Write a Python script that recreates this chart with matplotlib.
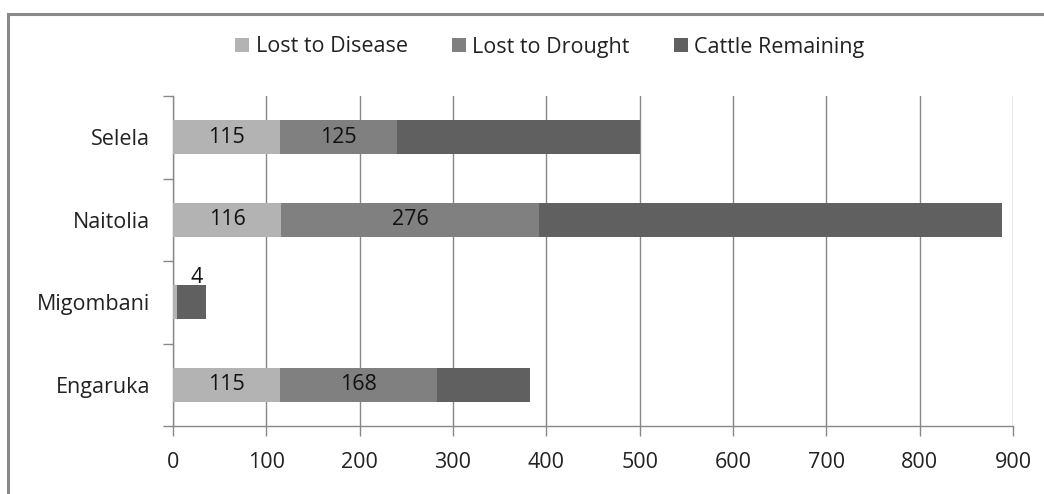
import matplotlib.pyplot as plt
import numpy as np
from matplotlib.patches import Rectangle

plt.rcParams['font.family'] = ['Open Sans', 'DejaVu Sans']

villages = ['Engaruka', 'Migombani', 'Naitolia', 'Selela']
disease = [115, 4, 116, 115]
drought = [168, 0, 276, 125]
remaining = [100, 31, 496, 260]

c_dis = '#b3b3b3'
c_dro = '#808080'
c_rem = '#606060'
fs = 15.5

fig = plt.figure(figsize=(10.44, 4.94), dpi=100)
fig.patches.append(Rectangle((8 / 1044, -0.1), 1.2, 1 - 14 / 494 + 0.1, transform=fig.transFigure,
                             fill=False, edgecolor='#8a8a8a', linewidth=2.2, zorder=0))

ax = fig.add_axes([173 / 1044, 1 - 426 / 494, 840 / 1044, 330 / 494])

y = np.arange(len(villages))
h = 0.41
left2 = np.array(disease)
left3 = left2 + np.array(drought)
b1 = ax.barh(y, disease, height=h, color=c_dis, label='Lost to Disease', zorder=3)
b2 = ax.barh(y, drought, height=h, left=left2, color=c_dro, label='Lost to Drought', zorder=3)
b3 = ax.barh(y, remaining, height=h, left=left3, color=c_rem, label='Cattle Remaining', zorder=3)

# labels inside the bars
for i in range(len(villages)):
    if disease[i] > 20:
        ax.text(disease[i] / 2, y[i], str(disease[i]), ha='center', va='center', fontsize=fs, color='#111111', zorder=4)
    if drought[i] > 20:
        ax.text(left2[i] + drought[i] / 2, y[i], str(drought[i]), ha='center', va='center', fontsize=fs, color='#111111', zorder=4)
# small value shown above the Migombani bar
ax.annotate(str(disease[1]), xy=(disease[1], y[1]), xytext=(20, 25), textcoords='offset pixels',
            ha='center', va='center', fontsize=fs, color='#111111')

ax.set_xlim(0, 900)
ax.set_ylim(-0.5, len(villages) - 0.5)
ax.set_xticks(np.arange(0, 901, 100))
ax.set_yticks(y)
ax.set_yticklabels(villages)
ax.set_yticks(np.arange(-0.5, len(villages), 1), minor=True)
ax.tick_params(axis='y', which='major', length=0, pad=16.5, labelsize=fs)
ax.tick_params(axis='y', which='minor', length=7, color='#888888', width=1)
ax.tick_params(axis='x', length=7, color='#888888', width=1, pad=12, labelsize=fs)
for lab in ax.get_xticklabels() + ax.get_yticklabels():
    lab.set_color('#222222')

ax.grid(axis='x', color='#888888', linewidth=1, zorder=0)
for s in ['top', 'right']:
    ax.spines[s].set_visible(False)
for s in ['left', 'bottom']:
    ax.spines[s].set_color('#888888')
    ax.spines[s].set_linewidth(1)

fig.legend(handles=[b1, b2, b3], loc='center', bbox_to_anchor=(550 / 1044, 1 - 47 / 494), ncol=3,
           frameon=False, fontsize=fs, handlelength=0.65, handleheight=0.65, handletextpad=0.3,
           columnspacing=2.05, labelcolor='#222222')

fig.savefig('out.png', dpi=100)
